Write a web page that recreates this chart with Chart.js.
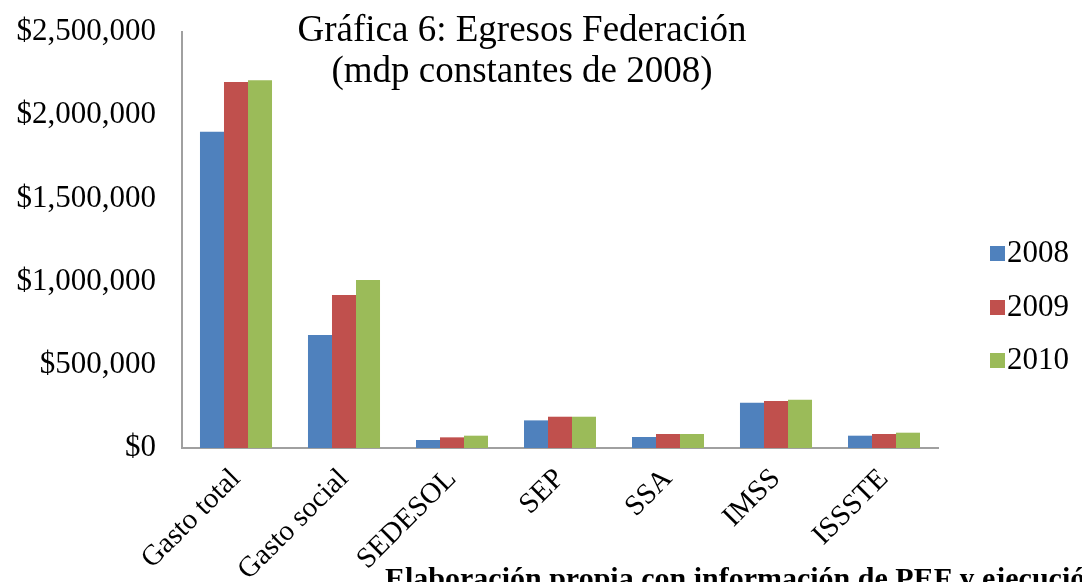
<!DOCTYPE html>
<html>
<head>
<meta charset="utf-8">
<script src="https://cdn.jsdelivr.net/npm/chart.js@4/dist/chart.umd.min.js"></script>
<style>
html,body{margin:0;padding:0;background:#fff;}
#wrap{width:1082px;height:582px;position:relative;}
</style>
</head>
<body>
<div id="wrap"><canvas id="c" width="1082" height="582"></canvas></div>
<script>
const categories = ["Gasto total","Gasto social","SEDESOL","SEP","SSA","IMSS","ISSSTE"];
const seriesNames = ["2008","2009","2010"];
const values2008 = [1900000, 679000, 48000, 166000, 66000, 272000, 74000];
const values2009 = [2200000, 919000, 64000, 188000, 84000, 282000, 84000];
const values2010 = [2210000, 1010000, 74000, 188000, 84000, 290000, 92000];
const seriesColors = ["#4F81BD","#C0504D","#9BBB59"];
const titleLines = ["Gráfica 6: Egresos Federación","(mdp constantes de 2008)"];
const footnote = "Elaboración propia con información de PEF y ejecución";

const SERIF = "'Liberation Serif', 'Times New Roman', serif";

const overlay = {
  id:'overlay',
  afterDraw(chart){
    const ctx = chart.ctx;
    ctx.save();
    ctx.fillStyle = '#000';
    ctx.textAlign = 'center';
    ctx.textBaseline = 'middle';
    ctx.font = "37px " + SERIF;
    ctx.fillText(titleLines[0], 522, 31);
    ctx.fillText(titleLines[1], 522, 72);
    // legend
    ctx.textAlign = 'left';
    ctx.font = "31px " + SERIF;
    const ys = [253, 307, 360];
    chart.data.datasets.forEach((ds,i)=>{
      ctx.fillStyle = ds.backgroundColor;
      ctx.fillRect(990, ys[i]-7, 15, 15);
      ctx.fillStyle = '#000';
      ctx.fillText(ds.label, 1007, ys[i]+1);
    });
    // footnote
    ctx.font = "bold 30px " + SERIF;
    ctx.textBaseline = 'alphabetic';
    ctx.fillText(footnote, 385, 588);
    ctx.restore();
  }
};

new Chart(document.getElementById('c'), {
  type:'bar',
  data:{
    labels: categories,
    datasets:[
      {label:seriesNames[0], data:values2008, backgroundColor:seriesColors[0]},
      {label:seriesNames[1], data:values2009, backgroundColor:seriesColors[1]},
      {label:seriesNames[2], data:values2010, backgroundColor:seriesColors[2]}
    ]
  },
  options:{
    responsive:false,
    animation:false,
    devicePixelRatio:1,
    layout:{padding:{left:0,right:144,top:32,bottom:0}},
    plugins:{legend:{display:false},title:{display:false},tooltip:{enabled:false}},
    datasets:{bar:{barPercentage:1.0,categoryPercentage:0.667}},
    scales:{
      x:{
        grid:{display:false,drawTicks:false},
        border:{display:true,color:'#A0A0A0',width:2},
        ticks:{color:'#000',font:{family:SERIF,size:29},maxRotation:45,minRotation:45,padding:14,autoSkip:false},
        afterFit(s){ s.height = 134; s.paddingLeft = 0; s.paddingRight = 0; }
      },
      y:{
        min:0,max:2500000,
        grid:{display:false,drawTicks:false},
        border:{display:true,color:'#A0A0A0',width:2},
        ticks:{stepSize:500000,color:'#000',font:{family:SERIF,size:31},padding:26,
          callback:v=>'$'+Number(v).toLocaleString('en-US')},
        afterFit(s){ s.width = 182; s.paddingTop = 0; s.paddingBottom = 0; }
      }
    }
  },
  plugins:[overlay]
});
</script>
</body>
</html>
